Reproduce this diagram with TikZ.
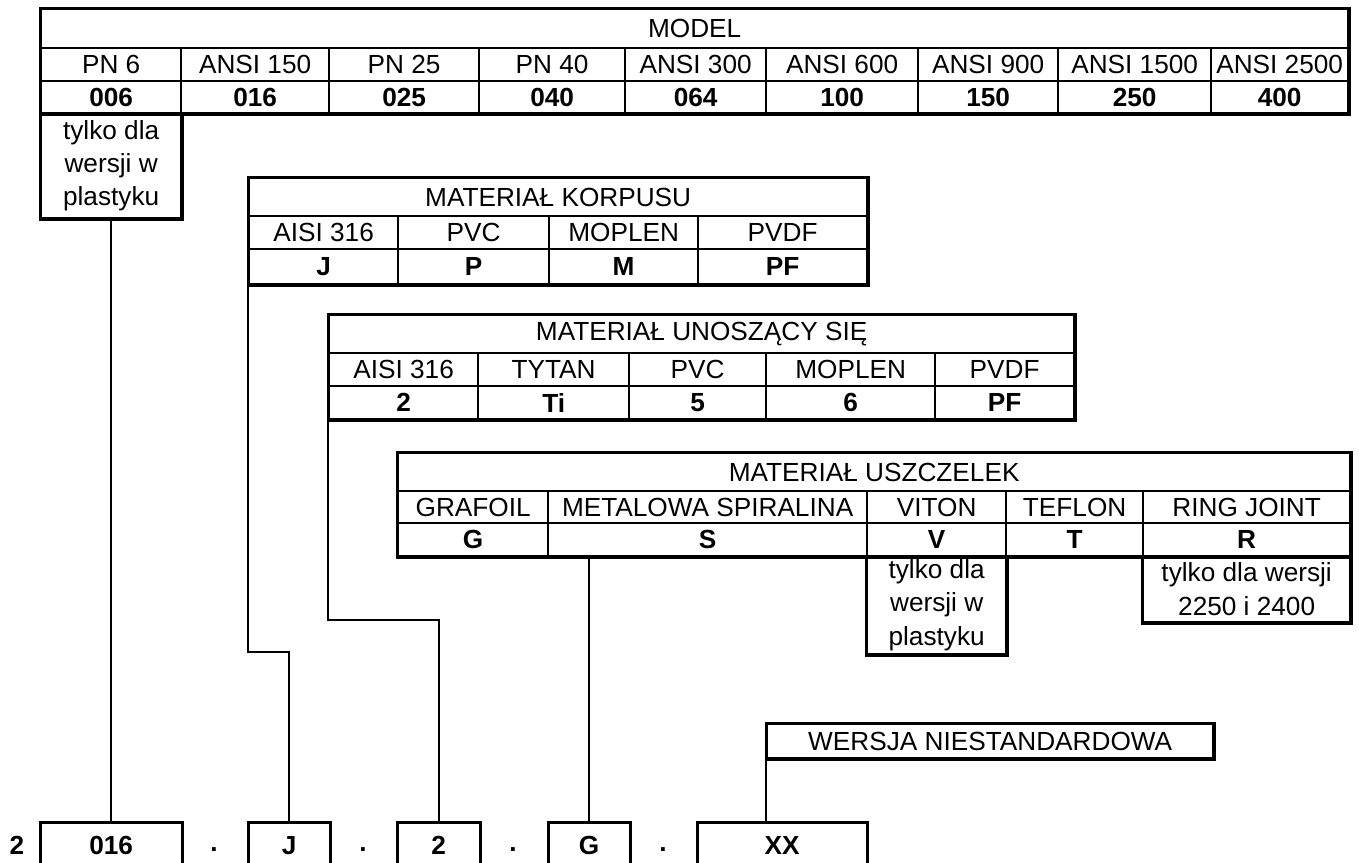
\documentclass[tikz,border=0pt]{standalone}
\usepackage{fontspec}
\setmainfont{Liberation Sans}
\newcommand\fsz{\fontsize{26.2}{33.3}\selectfont}
\newcommand\cel[6]{%
  \pgfmathsetmacro\cellw{#4-#2}\pgfmathsetmacro\cellh{#5-#3}%
  \node[cell, minimum width=\cellw pt, minimum height=\cellh pt] (#1) at (#2,#3) {#6};}
\newcommand\cod[6]{%
  \pgfmathsetmacro\cellw{#4-#2}\pgfmathsetmacro\cellh{#5-#3}%
  \node[cell, font=\fsz\bfseries, minimum width=\cellw pt, minimum height=\cellh pt] (#1) at (#2,#3) {#6};}
\newcommand\opn[6]{%
  \pgfmathsetmacro\cellw{#4-#2}\pgfmathsetmacro\cellh{#5-#3}%
  \node[cell, draw=none, font=\fsz\bfseries, minimum width=\cellw pt, minimum height=\cellh pt] (#1) at (#2,#3) {#6};
  \draw[outer] (#1.south west) -- (#1.north west) -- (#1.north east) -- (#1.south east);}
\tikzset{
  cell/.style={draw, line width=2.3pt, inner sep=0pt, anchor=north west, align=center, font=\fsz},
  outer/.style={line width=3pt},
  conn/.style={line width=2.3pt},
  plain/.style={inner sep=0pt, font=\fsz\bfseries}
}
\begin{document}
\begin{tikzpicture}[x=1pt,y=-1pt]
\useasboundingbox[fill=white] (0,0) rectangle (1359,862);
% MODEL
\cel{mt}{40}{8}{1347}{47}{MODEL}
\cel{mh1}{40}{47}{180}{80}{PN 6}
\cel{mh2}{180}{47}{328}{80}{ANSI 150}
\cel{mh3}{328}{47}{478}{80}{PN 25}
\cel{mh4}{478}{47}{624}{80}{PN 40}
\cel{mh5}{624}{47}{765}{80}{ANSI 300}
\cel{mh6}{765}{47}{917}{80}{ANSI 600}
\cel{mh7}{917}{47}{1057}{80}{ANSI 900}
\cel{mh8}{1057}{47}{1210}{80}{ANSI 1500}
\cel{mh9}{1210}{47}{1347}{80}{ANSI 2500}
\cod{mc1}{40}{80}{180}{112}{006}
\cod{mc2}{180}{80}{328}{112}{016}
\cod{mc3}{328}{80}{478}{112}{025}
\cod{mc4}{478}{80}{624}{112}{040}
\cod{mc5}{624}{80}{765}{112}{064}
\cod{mc6}{765}{80}{917}{112}{100}
\cod{mc7}{917}{80}{1057}{112}{150}
\cod{mc8}{1057}{80}{1210}{112}{250}
\cod{mc9}{1210}{80}{1347}{112}{400}
\draw[outer] (mt.north west) rectangle (mc9.south east);
\cel{nm}{40}{112}{180}{217}{tylko dla\\wersji w\\plastyku}
\draw[outer] (nm.north west) -- (nm.south west) -- (nm.south east) -- (nm.north east);
% KORPUS
\cel{kt}{248}{177}{866}{215}{MATERIAŁ KORPUSU}
\cel{kh1}{248}{215}{397}{248}{AISI 316}
\cel{kh2}{397}{215}{548}{248}{PVC}
\cel{kh3}{548}{215}{697}{248}{MOPLEN}
\cel{kh4}{697}{215}{866}{248}{PVDF}
\cod{kc1}{248}{248}{397}{283}{J}
\cod{kc2}{397}{248}{548}{283}{P}
\cod{kc3}{548}{248}{697}{283}{M}
\cod{kc4}{697}{248}{866}{283}{PF}
\draw[outer] (kt.north west) rectangle (kc4.south east);
% UNOSZACY
\cel{ut}{328}{314}{1073}{352}{MATERIAŁ UNOSZĄCY SIĘ}
\cel{uh1}{328}{352}{477}{385}{AISI 316}
\cel{uh2}{477}{352}{628}{385}{TYTAN}
\cel{uh3}{628}{352}{765}{385}{PVC}
\cel{uh4}{765}{352}{934}{385}{MOPLEN}
\cel{uh5}{934}{352}{1073}{385}{PVDF}
\cod{uc1}{328}{385}{477}{418}{2}
\cod{uc2}{477}{385}{628}{418}{Ti}
\cod{uc3}{628}{385}{765}{418}{5}
\cod{uc4}{765}{385}{934}{418}{6}
\cod{uc5}{934}{385}{1073}{418}{PF}
\draw[outer] (ut.north west) rectangle (uc5.south east);
% USZCZELKI
\cel{st}{397}{452}{1349}{490}{MATERIAŁ USZCZELEK}
\cel{sh1}{397}{490}{547}{522}{GRAFOIL}
\cel{sh2}{547}{490}{866}{522}{METALOWA SPIRALINA}
\cel{sh3}{866}{490}{1005}{522}{VITON}
\cel{sh4}{1005}{490}{1142}{522}{TEFLON}
\cel{sh5}{1142}{490}{1349}{522}{RING JOINT}
\cod{sc1}{397}{522}{547}{555}{G}
\cod{sc2}{547}{522}{866}{555}{S}
\cod{sc3}{866}{522}{1005}{555}{V}
\cod{sc4}{1005}{522}{1142}{555}{T}
\cod{sc5}{1142}{522}{1349}{555}{R}
\draw[outer] (st.north west) rectangle (sc5.south east);
\cel{nv}{866}{555}{1005}{653}{tylko dla\\wersji w\\plastyku}
\cel{nr}{1142}{555}{1349}{621}{tylko dla wersji\\2250 i 2400}
\draw[outer] (nv.north west) -- (nv.south west) -- (nv.south east) -- (nv.north east);
\draw[outer] (nr.north west) -- (nr.south west) -- (nr.south east) -- (nr.north east);
% WERSJA
\cel{wn}{766}{723}{1212}{757}{WERSJA NIESTANDARDOWA}
\draw[outer] (wn.north west) rectangle (wn.south east);
% bottom code
\node[plain] (t0) at (17,845) {2};
\opn{b1}{40}{822}{180}{866}{016}
\node[plain] (d1) at (214,850) {.};
\opn{b2}{248}{822}{328}{866}{J}
\node[plain] (d2) at (363,850) {.};
\opn{b3}{397}{822}{478}{866}{2}
\node[plain] (d3) at (513,850) {.};
\opn{b4}{548}{822}{628}{866}{G}
\node[plain] (d4) at (663,850) {.};
\opn{b5}{697}{822}{865}{866}{XX}
% connectors
\coordinate (kturn) at (248,652);
\coordinate (uturn) at (328,620);
\draw[conn] (nm.south) -- (b1.north);
\draw[conn] (kc1.south west) -- (kturn) -| (b2.north);
\draw[conn] (uc1.south west) -- (uturn) -| (b3.north);
\draw[conn] (b4.north |- sc2.south) -- (b4.north);
\draw[conn] (wn.south west) -- (wn.south west |- b5.north);
\end{tikzpicture}
\end{document}
